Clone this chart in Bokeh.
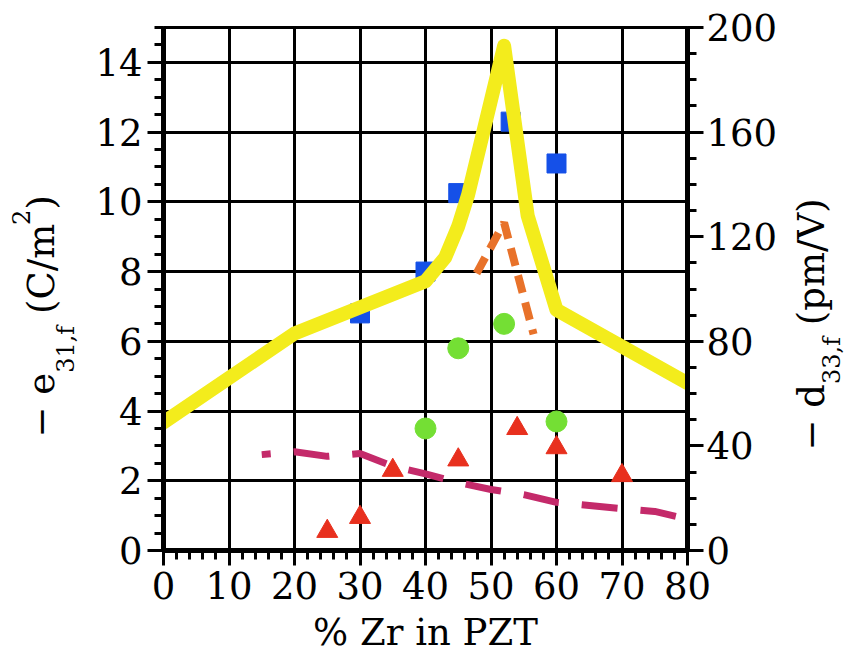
from math import pi

from bokeh.embed import file_html
from bokeh.layouts import row
from bokeh.models import FixedTicker, Grid, Label, LinearAxis, Range1d
from bokeh.plotting import figure
from bokeh.resources import INLINE

# ---- data: % Zr in PZT films vs. piezoelectric coefficients ----
sq_zr = [30, 40, 45, 53, 60]
sq_e31 = [6.8, 8.0, 10.25, 12.3, 11.1]

circ_zr = [40, 45, 52, 60]
circ_e31 = [3.5, 5.8, 6.5, 3.7]

tri_zr = [25, 30, 35, 45, 54, 60, 70]
tri_e31 = [0.55, 0.95, 2.3, 2.6, 3.5, 2.95, 2.15]

# bulk ceramic d33 (right axis, pm/V)
d33_zr = [0, 20, 40, 43, 45, 46.5, 52, 55.6, 60, 80]
d33_vals = [49, 83, 103, 112, 124, 136, 193, 128, 92, 64]

orange_zr = [47.8, 52, 56.5]
orange_e31 = [7.95, 9.4, 6.2]

mag_zr = [15, 20, 25, 30, 35, 40, 45, 50, 55, 60, 70, 75, 80]
mag_e31 = [2.75, 2.83, 2.7, 2.78, 2.42, 2.2, 1.95, 1.75, 1.6, 1.38, 1.2, 1.12, 0.9]

x_ticks = [0, 10, 20, 30, 40, 50, 60, 70, 80]
x_minor = list(range(0, 81, 2))
e31_ticks = [0, 2, 4, 6, 8, 10, 12, 14]
e31_minor = [i * 0.5 for i in range(31)]
d33_ticks = [0, 40, 80, 120, 160, 200]
d33_minor = list(range(0, 201, 10))

# ---- layout (page pixels) ----
W, H = 845, 656
LEFT_W, RIGHT_W = 80, 65
MAIN_W = W - LEFT_W - RIGHT_W
FL, FR, FT, FB = 163, 688, 27, 550          # plot frame on the page
FONT = "DejaVu Serif"
MAIN, SUB = 37, 24
BASE_FIX = 0.32   # Label anchor sits this far (in em) above the drawn baseline

BLUE = "#1550e8"
GREEN = "#74df34"
RED = "#e8301e"
YELLOW = "#f3ec1c"
ORANGE = "#e8722a"
MAGENTA = "#c42a6a"

p = figure(
    width=MAIN_W, height=H, title=None,
    x_range=Range1d(0, 80), y_range=Range1d(0, 15),
    x_axis_type=None, y_axis_type=None,
    output_backend="svg", toolbar_location=None,
    min_border_left=FL - LEFT_W, min_border_right=W - RIGHT_W - FR,
    min_border_top=FT, min_border_bottom=H - FB,
    background_fill_color="white", border_fill_color="white",
)
p.frame_align = False
p.extra_y_ranges = {"d33": Range1d(0, 200)}
p.outline_line_color = "black"
p.outline_line_width = 3

# grid
p.add_layout(Grid(dimension=0, ticker=FixedTicker(ticks=x_ticks),
                  grid_line_color="black", grid_line_width=3))
p.add_layout(Grid(dimension=1, ticker=FixedTicker(ticks=e31_ticks),
                  grid_line_color="black", grid_line_width=3))


def style_axis(ax, tick_out, standoff):
    ax.axis_line_color = "black"
    ax.axis_line_width = 5
    ax.major_tick_line_color = "black"
    ax.minor_tick_line_color = "black"
    ax.major_tick_line_width = 3
    ax.minor_tick_line_width = 3
    ax.major_tick_in = 0
    ax.minor_tick_in = 0
    ax.major_tick_out = tick_out
    ax.minor_tick_out = 9
    ax.major_label_standoff = standoff
    ax.major_label_text_font = FONT
    ax.major_label_text_font_size = f"{MAIN}px"
    ax.major_label_text_color = "black"


bottom = LinearAxis(ticker=FixedTicker(ticks=x_ticks, minor_ticks=x_minor),
                    axis_label="% Zr in PZT")
style_axis(bottom, 15, 6)
bottom.axis_label_standoff = 9
bottom.axis_label_text_font = FONT
bottom.axis_label_text_font_size = f"{MAIN}px"
bottom.axis_label_text_font_style = "normal"
bottom.axis_label_text_color = "black"
p.add_layout(bottom, "below")

left = LinearAxis(ticker=FixedTicker(ticks=e31_ticks, minor_ticks=e31_minor))
style_axis(left, 16, 5)
p.add_layout(left, "left")

right = LinearAxis(y_range_name="d33",
                   ticker=FixedTicker(ticks=d33_ticks, minor_ticks=d33_minor))
style_axis(right, 16, 3)
p.add_layout(right, "right")

# ---- series ----
p.line(mag_zr, mag_e31, line_color=MAGENTA, line_width=7,
       line_dash="36 23", line_dash_offset=27)
p.scatter(tri_zr, tri_e31, marker="triangle", size=21,
          fill_color=RED, line_color=RED)
p.line(orange_zr, orange_e31, line_color=ORANGE, line_width=8,
       line_dash="18 10")
p.scatter(circ_zr, circ_e31, marker="circle", size=21,
          fill_color=GREEN, line_color=GREEN)
p.scatter(sq_zr, sq_e31, marker="square", size=19,
          fill_color=BLUE, line_color=BLUE)
p.line(d33_zr, d33_vals, y_range_name="d33", line_color=YELLOW,
       line_width=14, line_join="round", line_cap="round")


# ---- side title panels: their data units are page pixels (y downwards) ----
def text_panel(x0, x1):
    f = figure(
        width=x1 - x0, height=H, title=None,
        x_range=Range1d(x0, x1), y_range=Range1d(H, 0),
        x_axis_type=None, y_axis_type=None,
        output_backend="svg", toolbar_location=None, min_border=0,
        background_fill_color="white", border_fill_color="white",
    )
    f.frame_align = False
    f.outline_line_color = None
    return f


def add_rotated_title(f, pieces, base_px, start_py):
    """pieces: (text, font px, baseline shift px, advance em, leading gap em)"""
    py = start_py
    for text, size, shift, adv, gap in pieces:
        py -= gap * size
        f.add_layout(Label(
            x=base_px + shift - BASE_FIX * size, y=py, text=text,
            angle=pi / 2, text_align="left", text_baseline="alphabetic",
            text_font=FONT, text_font_size=f"{size}px", text_color="black",
        ))
        py -= adv * size


left_panel = text_panel(0, LEFT_W)
add_rotated_title(left_panel, [
    ("− e", MAIN, 0, 1.748, 0),
    ("31,f", SUB, 20, 1.96, 0),
    ("(C/m", MAIN, 0, 2.409, 0.318),
    ("2", SUB, -25, 0.636, 0),
    (")", MAIN, 0, 0.39, 0),
], 53, 437)

right_panel = text_panel(W - RIGHT_W, W)
add_rotated_title(right_panel, [
    ("− d", MAIN, 0, 1.798, 0),
    ("33,f", SUB, 16, 1.96, 0),
    ("(pm/V)", MAIN, 0, 3.43, 0.318),
], 823, 450)

page = row(left_panel, p, right_panel, spacing=0)
open("out.html", "w").write(file_html(page, INLINE))
